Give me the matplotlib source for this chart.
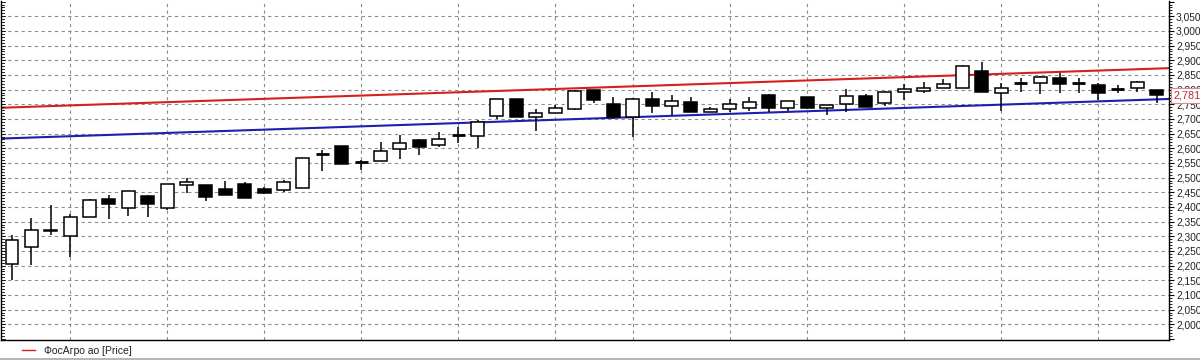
import numpy as np
import matplotlib
matplotlib.use('Agg')
import matplotlib.pyplot as plt
from matplotlib.ticker import MultipleLocator, FuncFormatter
from matplotlib.transforms import blended_transform_factory

plt.rcParams['font.family'] = ['Liberation Sans', 'DejaVu Sans']

# daily candles, values
opens = [2206, 2265, 2318, 2302, 2366, 2428, 2395, 2438, 2397, 2474,
         2475, 2460, 2478, 2461, 2459, 2466, 2582, 2606, 2554, 2556,
         2596, 2628, 2612, 2644, 2642, 2710, 2768, 2708, 2720, 2733,
         2798, 2751, 2708, 2769, 2743, 2759, 2725, 2733, 2736, 2781,
         2736, 2775, 2736, 2750, 2778, 2753, 2792, 2796, 2805, 2805,
         2864, 2789, 2824, 2821, 2839, 2821, 2817, 2802, 2804, 2799]
highs = [2304, 2361, 2406, 2375, 2427, 2439, 2455, 2439, 2479, 2499,
         2476, 2489, 2486, 2467, 2492, 2567, 2595, 2607, 2561, 2623,
         2644, 2630, 2655, 2674, 2695, 2769, 2769, 2733, 2747, 2797,
         2799, 2776, 2770, 2793, 2780, 2776, 2742, 2767, 2774, 2785,
         2762, 2776, 2749, 2801, 2785, 2794, 2819, 2826, 2836, 2883,
         2894, 2821, 2838, 2845, 2858, 2838, 2821, 2817, 2828, 2799]
lows = [2151, 2202, 2304, 2228, 2364, 2358, 2368, 2365, 2388, 2447,
        2420, 2442, 2431, 2443, 2452, 2464, 2521, 2545, 2527, 2555,
        2564, 2578, 2605, 2619, 2602, 2701, 2706, 2660, 2719, 2731,
        2753, 2701, 2637, 2719, 2712, 2724, 2724, 2725, 2728, 2723,
        2728, 2735, 2712, 2725, 2742, 2744, 2764, 2787, 2805, 2804,
        2791, 2728, 2793, 2784, 2789, 2789, 2764, 2787, 2793, 2753]
closes = [2286, 2320, 2320, 2364, 2425, 2411, 2454, 2411, 2478, 2485,
          2435, 2442, 2431, 2447, 2484, 2566, 2582, 2546, 2554, 2592,
          2619, 2603, 2630, 2644, 2691, 2768, 2708, 2721, 2738, 2794,
          2764, 2705, 2769, 2744, 2761, 2725, 2734, 2750, 2757, 2736,
          2761, 2736, 2749, 2778, 2742, 2793, 2801, 2805, 2819, 2882,
          2792, 2804, 2824, 2844, 2819, 2821, 2789, 2802, 2827, 2781]

# channel lines (start / end value across the plot)
red_line = [2738, 2873]
blue_line = [2633, 2768]

# week separators (candle index)
week_starts = [3, 8, 13, 18, 23, 28, 32, 37, 41, 46, 51, 56]

last_price = 2781
legend_text = 'ФосАгро ао [Price]'

fig = plt.figure(figsize=(12, 3.6), dpi=100)
W, H = 1200, 360
ax = fig.add_axes([1 / W, 1 - 339.5 / H, 1168 / W, 338.5 / H])

xmin, xmax = -0.567, 59.64
ax.set_xlim(xmin, xmax)
ax.set_ylim(1948, 3102)

# grid
grid_kw = dict(color='#8c8c8c', linewidth=0.8, linestyle=(0, (3, 3)), zorder=0)
for v in range(2000, 3100, 50):
    ax.axhline(v, **grid_kw)
for w in week_starts:
    ax.axvline(w, **grid_kw)

# channel lines
ax.plot([xmin, xmax], red_line, color='#d81e1e', linewidth=1.5, zorder=1)
ax.plot([xmin, xmax], blue_line, color='#1e1eb0', linewidth=1.5, zorder=1)

# candles
x = np.arange(len(opens))
o = np.array(opens); c = np.array(closes)
ax.vlines(x, lows, highs, color='black', linewidth=1.1, zorder=2)
bw = 0.67
for i in range(len(x)):
    if o[i] == c[i]:
        ax.hlines(o[i], x[i] - bw / 2, x[i] + bw / 2, color='black', linewidth=2, zorder=3)
    else:
        up = c[i] > o[i]
        ax.bar(x[i], abs(c[i] - o[i]), bottom=min(o[i], c[i]), width=bw,
               color='white' if up else 'black', edgecolor='black',
               linewidth=1.1, zorder=3)

# axes look
ax.spines['top'].set_visible(False)
for s in ['left', 'right', 'bottom']:
    ax.spines[s].set_linewidth(1)
ax.set_xticks([])
ax.yaxis.set_major_locator(MultipleLocator(50))
ax.yaxis.set_minor_locator(MultipleLocator(10))
ax.yaxis.set_major_formatter(FuncFormatter(lambda v, p: f'{int(v):,}' if 2000 <= v <= 3050 else ''))
ax.tick_params(axis='y', which='both', left=False, right=True, labelleft=False, labelright=True)
ax.tick_params(axis='y', which='major', direction='out', length=3.5, width=0.8, pad=1.5,
               labelsize=7.3, labelcolor='#222222')
ax.tick_params(axis='y', which='minor', direction='out', length=2, width=0.6)

# ruler ticks on the cut-off left edge
tr = blended_transform_factory(ax.transAxes, ax.transData)
for v in range(1950, 3101, 10):
    ln = 4 if v % 50 == 0 else 2.5
    ax.plot([0, ln / 1168], [v, v], transform=tr, color='black', linewidth=0.6,
            clip_on=False, zorder=4)

# current price label
ax.text(1.0035, last_price, f'{last_price:,}', transform=tr, fontsize=7.8, color='#c0283c',
        va='center', ha='left', zorder=5,
        bbox=dict(boxstyle='square,pad=0.22', facecolor='white', edgecolor='#d88a8a', linewidth=0.8))

# legend strip
fig.add_artist(plt.Line2D([22 / W, 35 / W], [1 - 350 / H, 1 - 350 / H], color='#d81e1e', linewidth=1))
fig.text(44 / W, 1 - 350.5 / H, legend_text, fontsize=7.5, va='center', ha='left', color='#222222')
fig.add_artist(plt.Line2D([0, 1], [1 - 358.5 / H, 1 - 358.5 / H], color='#a8a8a8', linewidth=1.2))

fig.savefig('out.png', dpi=100)
